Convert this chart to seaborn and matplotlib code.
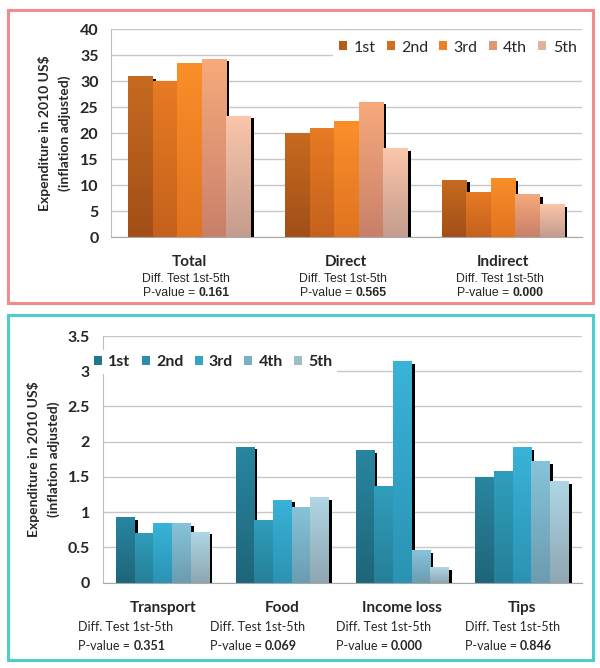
import numpy as np
import pandas as pd
import matplotlib
matplotlib.use("Agg")
import matplotlib.pyplot as plt
import matplotlib.patheffects as pe
import matplotlib.transforms as mtrans
import matplotlib.colors as mcolors
from matplotlib.patches import Rectangle, Patch
from matplotlib.offsetbox import TextArea, HPacker, AnnotationBbox
from matplotlib.ticker import FuncFormatter, MultipleLocator
import seaborn as sns

# ---------------- data ---------------- #
quintiles = ["1st", "2nd", "3rd", "4th", "5th"]

top_cats = ["Total", "Direct", "Indirect"]
top_values = [[31.0, 20.0, 11.1],   # 1st
              [30.1, 21.1, 8.8],    # 2nd
              [33.6, 22.3, 11.4],   # 3rd
              [34.3, 26.1, 8.3],    # 4th
              [23.4, 17.1, 6.4]]    # 5th
top_pvals = ["0.161", "0.565", "0.000"]

bot_cats = ["Transport", "Food", "Income loss", "Tips"]
bot_values = [[0.93, 1.93, 1.88, 1.50],
              [0.70, 0.89, 1.37, 1.58],
              [0.84, 1.18, 3.14, 1.92],
              [0.84, 1.07, 0.46, 1.72],
              [0.72, 1.21, 0.22, 1.44]]
bot_pvals = ["0.351", "0.069", "0.000", "0.846"]

# colours (top of bar, bottom of bar)
orange_top = ["#C66A1F", "#E87B24", "#FA8F2A", "#F8AA7C", "#FBC6AA"]
orange_bot = ["#A24F17", "#C4611C", "#E07320", "#C8806A", "#C49C8E"]
teal_top = ["#2886A0", "#2F9EBC", "#39B3D8", "#86C3DA", "#B0D6E4"]
teal_bot = ["#1F6579", "#267F98", "#2A93B3", "#6C9CB0", "#8EA6B2"]

W, H = 600, 668
sns.set_style("white")
plt.rcParams['font.family'] = ['Lato', 'DejaVu Sans']

fig = plt.figure(figsize=(W / 100, H / 100), dpi=100)


def fy(px):
    return 1 - px / H


def to_long(cats, values):
    rows = []
    for q, vals in zip(quintiles, values):
        for c, v in zip(cats, vals):
            rows.append({"cat": c, "quintile": q, "value": v})
    return pd.DataFrame(rows)


def draw_panel(ax, cats, values, c_top, c_bot, ymax, ystep):
    df = to_long(cats, values)
    mid = [mcolors.to_hex((np.array(mcolors.to_rgb(a)) + np.array(mcolors.to_rgb(b))) / 2)
           for a, b in zip(c_top, c_bot)]
    sns.barplot(data=df, x="cat", y="value", hue="quintile", order=cats,
                hue_order=quintiles, palette=mid, width=0.78, saturation=1,
                errorbar=None, linewidth=0, legend=False, ax=ax)
    # shadow + vertical gradient on each bar
    for i, cont in enumerate(ax.containers):
        ct = np.array(mcolors.to_rgb(c_top[i]))
        cb = np.array(mcolors.to_rgb(c_bot[i]))
        grad = np.linspace(cb, ct, 64).reshape(64, 1, 3)
        for bar in cont:
            bar.set_path_effects([pe.SimplePatchShadow(offset=(2.2, -1.8), shadow_rgbFace="black", alpha=1.0),
                                  pe.Normal()])
            x0 = bar.get_x()
            w = bar.get_width()
            h = bar.get_height()
            im = ax.imshow(grad, extent=[x0, x0 + w, 0, h], origin="lower", aspect="auto",
                           interpolation="bilinear", zorder=bar.get_zorder() + 0.5)
            im.set_clip_path(bar)
    ax.set_xlim(-0.5, len(cats) - 0.5)
    ax.set_ylim(0, ymax)
    ax.yaxis.set_major_locator(MultipleLocator(ystep))
    ax.yaxis.set_major_formatter(FuncFormatter(lambda v, p: f"{v:g}"))
    ax.set_axisbelow(True)
    ax.grid(axis="y", color="#C8C8C8", linewidth=1)
    ax.grid(axis="x", visible=False)
    for s in ["top", "right"]:
        ax.spines[s].set_visible(False)
    ax.spines["left"].set_color("#BDBDBD")
    ax.spines["bottom"].set_color("#A8A8A8")
    ax.tick_params(axis="both", length=0)
    ax.tick_params(axis="y", pad=9, labelsize=11.5)
    for t in ax.get_yticklabels():
        t.set_fontweight("bold")
    ax.set_xticks([])
    ax.set_xlabel("")
    ax.set_ylabel("Expenditure in 2010 US$\n(inflation adjusted)", fontsize=10,
                  fontweight="bold", linespacing=1.65)
    return mid


# ------------------ panel borders ------------------ #
fig.add_artist(Rectangle((8 / W, fy(303)), 585 / W, 293 / H, transform=fig.transFigure,
                         fill=False, edgecolor="#F28B8B", linewidth=2.2))
fig.add_artist(Rectangle((8 / W, fy(660)), 585 / W, 345 / H, transform=fig.transFigure,
                         fill=False, edgecolor="#4ECDCD", linewidth=2.2))

# ------------------ top panel ------------------ #
ax1 = fig.add_axes([111 / W, fy(237.3), 470.6 / W, 208 / H])
mid1 = draw_panel(ax1, top_cats, top_values, orange_top, orange_bot, 40, 5)
ax1.yaxis.set_label_coords(-0.085, 0.5)
handles = [Patch(facecolor=c, edgecolor="none") for c in mid1]
leg1 = ax1.legend(handles, quintiles, loc="upper right", bbox_to_anchor=(1.02, 1.015), ncol=5,
                  frameon=True, facecolor="white", edgecolor="none", framealpha=1,
                  fontsize=11.5, handlelength=0.5, handleheight=0.5, handletextpad=0.4,
                  columnspacing=0.7, borderpad=0.4, fancybox=False)

tr1 = mtrans.blended_transform_factory(ax1.transData, fig.transFigure)
for i, (c, p) in enumerate(zip(top_cats, top_pvals)):
    ax1.text(i, fy(262), c, transform=tr1, ha="center", va="center",
             fontsize=11, fontweight="bold", clip_on=False)
    ax1.text(i - 0.02, fy(278.5), "Diff. Test 1st-5th", transform=tr1, ha="center", va="center",
             fontsize=8.8, family=["Liberation Sans"], clip_on=False)
    box = HPacker(children=[TextArea("P-value = ", textprops=dict(fontsize=8.8, family=["Liberation Sans"])),
                            TextArea(p, textprops=dict(fontsize=8.8, family=["Liberation Sans"],
                                                       fontweight="bold"))],
                  align="baseline", pad=0, sep=0)
    ab = AnnotationBbox(box, (i - 0.02, fy(293.5)), xycoords=tr1, frameon=False,
                        box_alignment=(0.5, 0.5), annotation_clip=False)
    ax1.add_artist(ab)

# ------------------ bottom panel ------------------ #
ax2 = fig.add_axes([102.7 / W, fy(582.7), 479.3 / W, 246.7 / H])
mid2 = draw_panel(ax2, bot_cats, bot_values, teal_top, teal_bot, 3.5, 0.5)
ax2.yaxis.set_label_coords(-0.09, 0.5)
handles = [Patch(facecolor=c, edgecolor="none") for c in mid2]
leg2 = ax2.legend(handles, quintiles, loc="upper left", bbox_to_anchor=(-0.045, 0.975), ncol=5,
                  frameon=True, facecolor="white", edgecolor="none", framealpha=1,
                  prop=dict(size=11.5, weight="bold"), handlelength=0.5, handleheight=0.5,
                  handletextpad=0.4, columnspacing=0.7, borderpad=0.3, fancybox=False)

sub_left = [-0.706, -0.605, -0.553, -0.48]
tr2 = mtrans.blended_transform_factory(ax2.transData, fig.transFigure)
for i, (c, p) in enumerate(zip(bot_cats, bot_pvals)):
    ax2.text(i, fy(608), c, transform=tr2, ha="center", va="center",
             fontsize=11, fontweight="bold", clip_on=False)
    ax2.text(i + sub_left[i], fy(627), "Diff. Test 1st-5th", transform=tr2, ha="left", va="center",
             fontsize=9, clip_on=False)
    box = HPacker(children=[TextArea("P-value = ", textprops=dict(fontsize=9)),
                            TextArea(p, textprops=dict(fontsize=9, fontweight="bold"))],
                  align="baseline", pad=0, sep=0)
    ab = AnnotationBbox(box, (i + sub_left[i], fy(646)), xycoords=tr2, frameon=False,
                        box_alignment=(0.0, 0.5), annotation_clip=False)
    ax2.add_artist(ab)

fig.savefig("out.png", dpi=100, facecolor="white")
